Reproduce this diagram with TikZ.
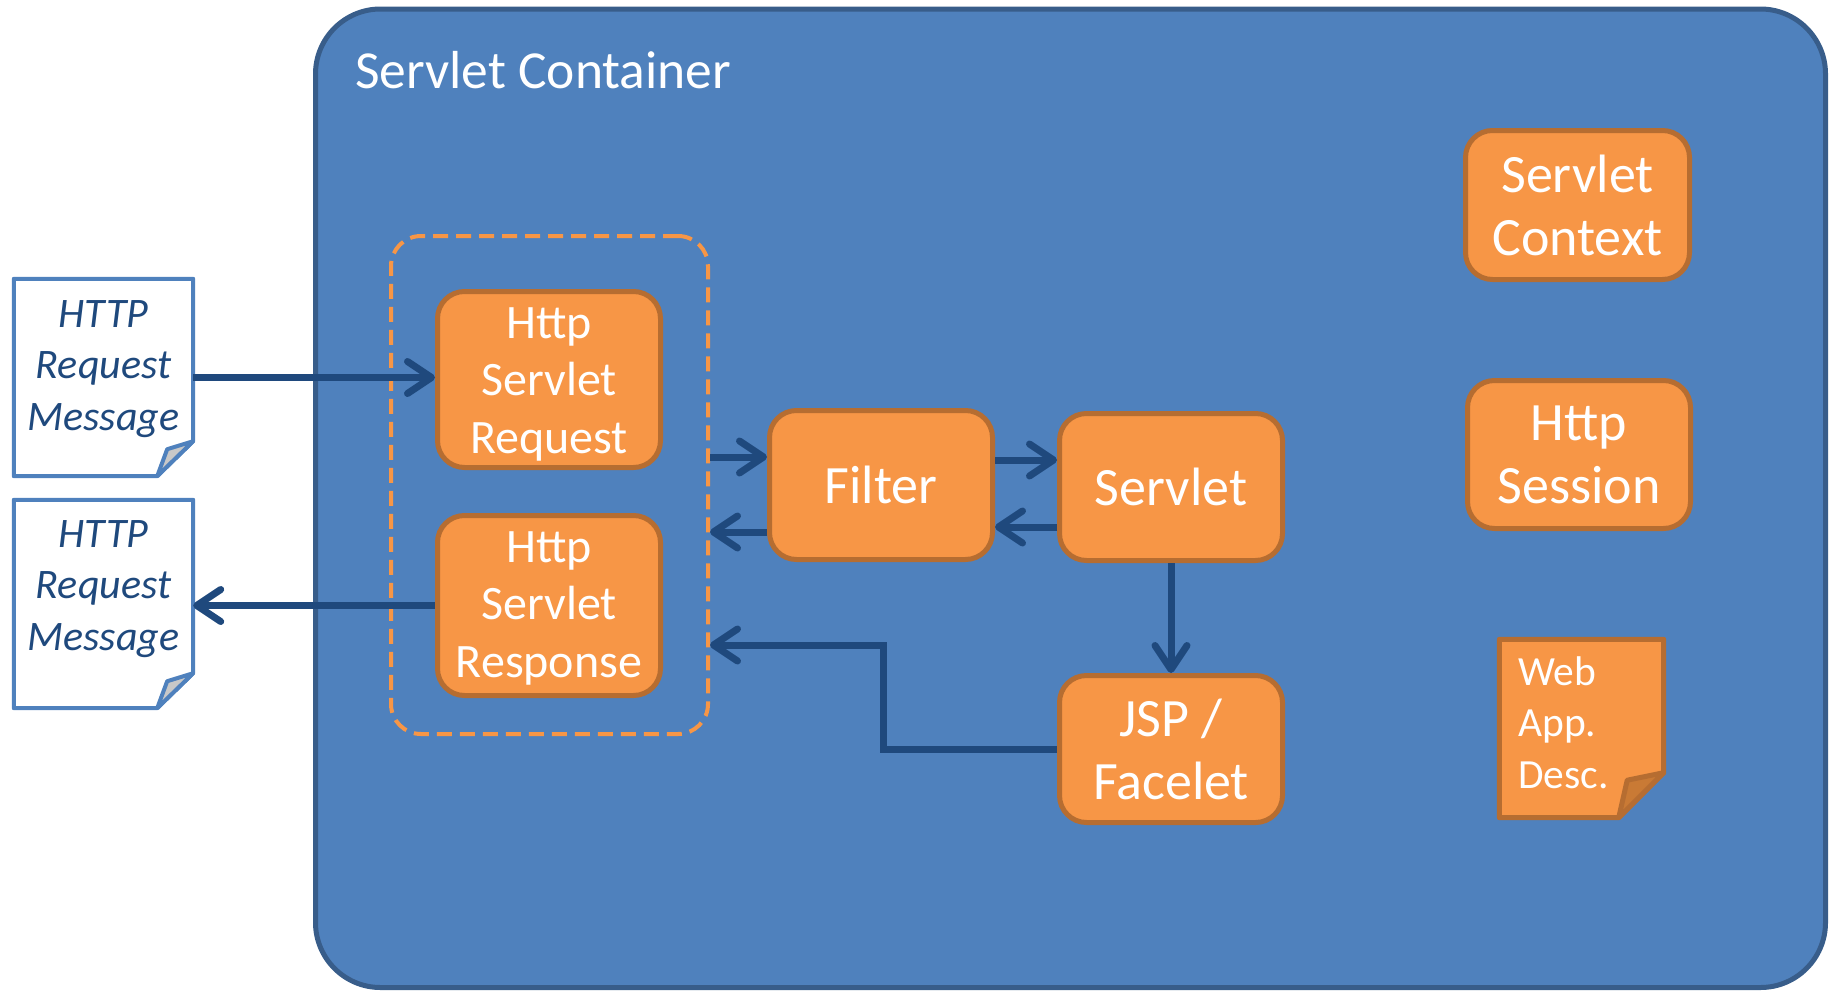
\documentclass[tikz,border=0pt]{standalone}
\usepackage{fontspec}
\setmainfont{Carlito}
\usetikzlibrary{arrows.meta}
\definecolor{contfill}{HTML}{4F81BD}
\definecolor{contline}{HTML}{385D8A}
\definecolor{orfill}{HTML}{F79646}
\definecolor{orline}{HTML}{B66D31}
\definecolor{arrcol}{HTML}{1F497D}
\definecolor{docline}{HTML}{4F81BD}
\definecolor{flapgray}{HTML}{C8C8C8}
\definecolor{orflap}{HTML}{C97A35}
\begin{document}
\begin{tikzpicture}[x=1pt,y=-1pt,
  container/.style={draw=contline, fill=contfill, line width=5pt, rounded corners=65pt, inner sep=0pt},
  box/.style={draw=orline, fill=orfill, line width=5pt, rounded corners=27pt, minimum width=223pt, text=white, align=center, inner sep=0pt},
  bigtxt/.style={font=\fontsize{54}{63}\selectfont},
  midtxt/.style={text=white, align=center, inner sep=0pt, font=\fontsize{48}{57.5}\selectfont},
  dashbox/.style={draw=orfill, line width=4pt, dash pattern=on 15pt off 8pt, rounded corners=30pt, inner sep=0pt},
  arr/.style={draw=arrcol, line width=7pt, -{Straight Barb[length=24pt,width=32pt,round]}},
  docframe/.style={inner sep=0pt},
  docshape/.style={draw=docline, fill=white, line width=4pt, line join=round},
  docflap/.style={draw=docline, fill=flapgray, line width=4pt, line join=round},
  doctext/.style={text=arrcol, align=center, inner sep=0pt, font=\itshape\fontsize{42}{51.5}\selectfont},
  noteshape/.style={draw=orline, fill=orfill, line width=5pt, line join=round},
  noteflap/.style={draw=orline, fill=orflap, line width=5pt, line join=round},
  notetext/.style={text=white, align=left, inner sep=0pt, font=\fontsize{41.5}{51.5}\selectfont},
  title/.style={text=white, inner sep=0pt, font=\fontsize{53.5}{64}\selectfont}
]
\useasboundingbox (0,0) rectangle (1833,991);

% container
\node[container, minimum width=1510pt, minimum height=978.5pt] (cont) at (1070.5,498.25) {};
\node[title, anchor=base west] (ctitle) at (355,88) {Servlet Container};

% dashed group
\node[dashbox, minimum width=317pt, minimum height=498pt] (dash) at (549.5,485) {};

% orange boxes
\node[box, minimum height=176pt] (hsreq) at (549,379.5) {};
\node[midtxt, anchor=base] (hsreqt) at (549,453) {Http\\Servlet\\Request};
\node[box, minimum height=180pt] (hsresp) at (549,605.5) {};
\node[midtxt, anchor=base] (hsrespt) at (549,677) {Http\\Servlet\\Response};
\node[box, bigtxt, minimum height=149pt] (filter) at (881,485) {Filter};
\node[box, bigtxt, minimum height=147pt] (servlet) at (1171,487) {Servlet};
\node[box, bigtxt, minimum height=147pt] (jsp) at (1171,749) {JSP /\\Facelet};
\node[box, bigtxt, minimum width=224pt, minimum height=149pt] (sctx) at (1577.5,205) {Servlet\\Context};
\node[box, bigtxt, minimum height=148pt] (hsess) at (1579,454.5) {Http\\Session};

% web app descriptor note
\node[docframe, minimum width=164pt, minimum height=178pt] (webdesc) at (1581.5,728.5) {};
\draw[noteshape] (webdesc.north west) -- (webdesc.north east) -- ([yshift=45pt]webdesc.south east)
  -- ([xshift=-45pt]webdesc.south east) -- (webdesc.south west) -- cycle;
\draw[noteflap] ([yshift=45pt]webdesc.south east) -- ([xshift=-36.5pt,yshift=37.5pt]webdesc.south east)
  -- ([xshift=-45pt]webdesc.south east) -- cycle;
\node[notetext, anchor=base west] (webtext) at (1518,788) {Web\\App.\\Desc.};

% HTTP documents
\node[docframe, minimum width=179pt, minimum height=197pt] (doc1) at (103.5,377.5) {};
\draw[docshape] (doc1.north west) -- (doc1.north east) -- ([yshift=35pt]doc1.south east)
  -- ([xshift=-36pt]doc1.south east) -- (doc1.south west) -- cycle;
\draw[docflap] ([yshift=35pt]doc1.south east) -- ([xshift=-26pt,yshift=27pt]doc1.south east)
  -- ([xshift=-36pt]doc1.south east) -- cycle;
\node[doctext, anchor=base] (doc1t) at (103.5,430) {HTTP\\Request\\Message};

\node[docframe, minimum width=179pt, minimum height=208pt] (doc2) at (103.5,604) {};
\draw[docshape] (doc2.north west) -- (doc2.north east) -- ([yshift=35pt]doc2.south east)
  -- ([xshift=-36pt]doc2.south east) -- (doc2.south west) -- cycle;
\draw[docflap] ([yshift=35pt]doc2.south east) -- ([xshift=-26pt,yshift=27pt]doc2.south east)
  -- ([xshift=-36pt]doc2.south east) -- cycle;
\node[doctext, anchor=base] (doc2t) at (103.5,650) {HTTP\\Request\\Message};

% connectors
\draw[arr] (doc1.east) -- (doc1.east -| hsreq.west);
\draw[arr] (hsresp.west) -- (hsresp.west -| doc2.east);

\coordinate (fin) at ([yshift=28pt]filter.west);
\coordinate (fout) at ([yshift=-47pt]filter.west);
\draw[arr] (fin -| dash.east) -- (fin);
\draw[arr] (fout) -- (fout -| dash.east);

\coordinate (sin) at ([yshift=27pt]servlet.west);
\coordinate (sout) at ([yshift=-40pt]servlet.west);
\draw[arr] (sin -| filter.east) -- (sin);
\draw[arr] (sout) -- (sout -| filter.east);

\draw[arr] (servlet.south) -- (jsp.north);

\coordinate (jbend) at (883,645);
\draw[arr] (jsp.west) -| (jbend) -- (jbend -| dash.east);
\end{tikzpicture}
\end{document}
